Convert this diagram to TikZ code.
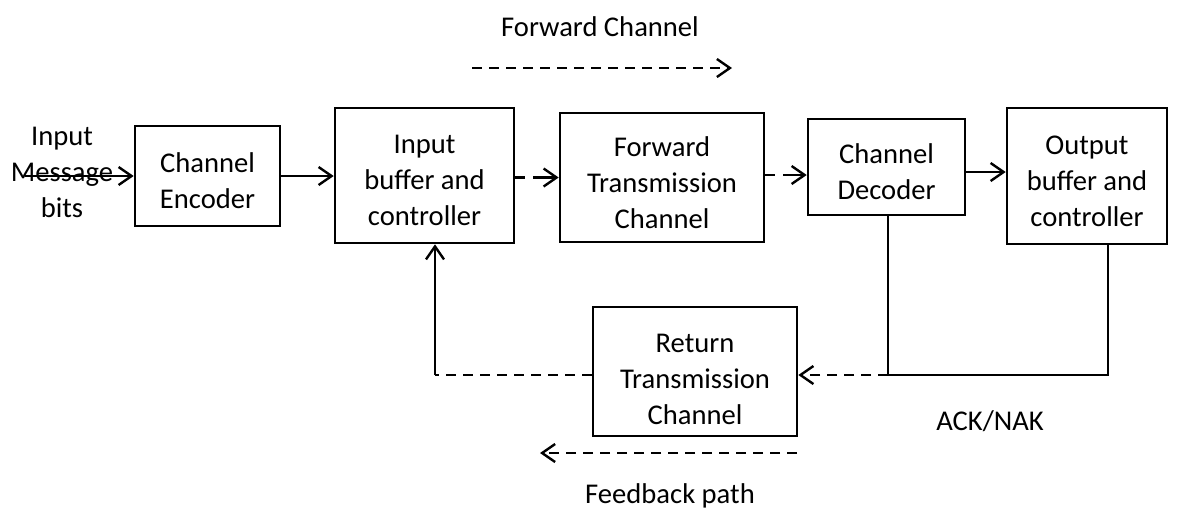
\documentclass[tikz,border=0pt]{standalone}
\usepackage{fontspec}
\setmainfont{Carlito}
\usetikzlibrary{arrows.meta,calc}
\begin{document}
\begin{tikzpicture}[x=0.5pt,y=-0.5pt,
  every node/.style={font=\fontsize{14.3}{18}\selectfont},
  blk/.style={draw,line width=1.3pt,inner sep=0pt},
  txt/.style={align=center,inner sep=0pt},
  conn/.style={line width=1.2pt,-{Straight Barb[length=6.5pt,width=9pt,line width=1.2pt]}},
  plain/.style={line width=1.2pt},
  dsh/.style={dash pattern=on 5pt off 3.5pt},
  shortdsh/.style={dash pattern=on 5pt off 4pt on 30pt},
  lbl/.style={align=center,inner sep=0pt}]
\useasboundingbox (0,0) rectangle (1181,511);
% blocks
\node[blk,minimum width=72.5pt,minimum height=50pt] (enc) at (207.5,176) {};
\node[blk,minimum width=89.5pt,minimum height=67.5pt] (inb) at (424.5,175.5) {};
\node[blk,minimum width=102pt,minimum height=64.5pt] (fwd) at (662,177.5) {};
\node[blk,minimum width=78.5pt,minimum height=48pt] (dec) at (886.5,167) {};
\node[blk,minimum width=80pt,minimum height=68pt] (outb) at (1087,176) {};
\node[blk,minimum width=102pt,minimum height=64.5pt] (ret) at (695,371.5) {};
% block texts
\node[txt] (enct) at ([yshift=-2.5pt]enc.center) {Channel\\Encoder};
\node[txt] (inbt) at ([yshift=-2.5pt]inb.center) {Input\\buffer and\\controller};
\node[txt] (fwdt) at ([yshift=-2.5pt]fwd.center) {Forward\\Transmission\\Channel};
\node[txt] (dect) at ([yshift=-2.5pt]dec.center) {Channel\\Decoder};
\node[txt] (outbt) at ([yshift=-2.5pt]outb.center) {Output\\buffer and\\controller};
\node[txt] (rett) at ([yshift=-4pt]ret.center) {Return\\Transmission\\Channel};
% labels
\node[lbl] (inmsg) at (62,172) {Input\\Message\\bits};
\node[lbl,anchor=base] (fwdlbl) at (600,36) {Forward Channel};
\node[lbl,anchor=base] (fblbl) at (670,503) {Feedback path};
\node[lbl,anchor=base] (ack) at (990,430) {ACK/NAK};
% coordinates
\coordinate (in0) at (25,176);
\coordinate (fa1) at (472,68);
\coordinate (fa2) at (732,68);
\coordinate (fb1) at (797,453);
\coordinate (fb2) at (540,453);
\coordinate (j1) at (888,375);
\coordinate (j2) at (1108,375);
\coordinate (c1) at (435,375);
% forward path
\draw[conn] (in0) -- (in0 -| enc.west);
\draw[conn] (enc.east) -- (enc.east -| inb.west);
\draw[conn,shortdsh] ([yshift=-1pt]inb.east) -- ([yshift=-1pt]inb.east -| fwd.west);
\draw[conn,shortdsh] ([yshift=1.25pt]fwd.east) -- ([yshift=1.25pt]fwd.east -| dec.west);
\draw[conn] ([yshift=-2.5pt]dec.east) -- ([yshift=-2.5pt]dec.east -| outb.west);
% feedback
\draw[plain] (dec.south -| j1) -- (j1) -- (j2) -- (j2 |- outb.south);
\draw[conn,dsh] (j1) -- (j1 -| ret.east);
\draw[plain,dsh] (ret.west |- c1) -- (c1);
\draw[conn] (c1) -- (c1 |- inb.south);
% direction arrows
\draw[conn,dsh] (fa1) -- (fa2);
\draw[conn,dsh] (fb1) -- (fb2);
\end{tikzpicture}
\end{document}
